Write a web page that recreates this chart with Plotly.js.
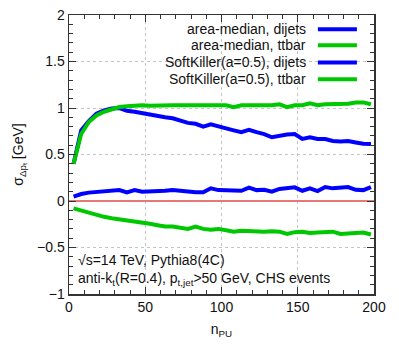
<!DOCTYPE html>
<html>
<head>
<meta charset="utf-8">
<script src="https://cdn.plot.ly/plotly-3.0.1.min.js"></script>
<style>
  html, body { margin: 0; padding: 0; background: #fff; }
  #plot { width: 399px; height: 353px; }
</style>
</head>
<body>
<div id="plot"></div>
<script>
// n_PU sample points
var npu = [3, 8, 13, 18, 23, 28, 33, 38, 43, 48, 53, 58, 63, 68, 73, 78, 83, 88, 93, 98,
           103, 108, 113, 118, 123, 128, 133, 138, 143, 148, 153, 158, 163, 168, 173, 178, 183, 188, 193, 198];

var am_dijets = [0.40, 0.76, 0.86, 0.94, 0.975, 0.995, 1.0, 0.97, 0.96, 0.945,
                 0.925, 0.905, 0.90, 0.89, 0.86, 0.84, 0.83, 0.80, 0.825, 0.80,
                 0.78, 0.76, 0.74, 0.765, 0.74, 0.72, 0.685, 0.705, 0.715, 0.72,
                 0.667, 0.685, 0.667, 0.667, 0.645, 0.64, 0.645, 0.63, 0.615, 0.613];

var am_ttbar = [0.40, 0.72, 0.85, 0.92, 0.96, 0.99, 1.01, 1.02, 1.03, 1.03,
                1.025, 1.03, 1.03, 1.03, 1.03, 1.025, 1.03, 1.03, 1.03, 1.025,
                1.03, 1.01, 1.03, 1.03, 1.03, 1.02, 1.03, 1.04, 1.01, 1.03,
                1.03, 1.05, 1.03, 1.04, 1.04, 1.04, 1.045, 1.06, 1.06, 1.04];

var sk_dijets = [0.047, 0.075, 0.09, 0.097, 0.105, 0.112, 0.117, 0.093, 0.117, 0.10,
                 0.10, 0.10, 0.11, 0.117, 0.11, 0.093, 0.093, 0.093, 0.136, 0.117,
                 0.117, 0.11, 0.11, 0.143, 0.117, 0.12, 0.10, 0.13, 0.14, 0.147,
                 0.11, 0.136, 0.107, 0.15, 0.136, 0.145, 0.15, 0.12, 0.117, 0.15];

var sk_ttbar = [-0.08, -0.105, -0.13, -0.15, -0.17, -0.185, -0.195, -0.21, -0.215, -0.225,
                -0.245, -0.26, -0.275, -0.275, -0.29, -0.30, -0.275, -0.30, -0.31, -0.30,
                -0.315, -0.33, -0.32, -0.325, -0.33, -0.33, -0.325, -0.33, -0.355, -0.335,
                -0.33, -0.345, -0.34, -0.335, -0.33, -0.355, -0.345, -0.345, -0.34, -0.36];

var names = ['area-median, dijets', 'area-median, ttbar',
             'SoftKiller(a=0.5), dijets', 'SoftKiller(a=0.5), ttbar'];
var blue = '#0000ff';
var green = '#00c800';
var colors = [blue, green, blue, green];
var series = [am_dijets, am_ttbar, sk_dijets, sk_ttbar];

var data = series.map(function (ys, i) {
    return {
        x: npu,
        y: ys,
        type: 'scatter',
        mode: 'lines',
        name: names[i],
        line: {color: colors[i], width: 4},
        hoverinfo: 'none'
    };
});

// hand-made legend: text right aligned, line sample on the right
var legY = [0.949, 0.892, 0.830, 0.770];
var annotations = [];
var shapes = [];
names.forEach(function (n, i) {
    annotations.push({
        xref: 'paper', yref: 'paper', x: 0.784, y: legY[i],
        xanchor: 'right', yanchor: 'middle', showarrow: false,
        text: n, font: {size: 14, color: '#111'}
    });
    shapes.push({
        type: 'line', xref: 'paper', yref: 'paper',
        x0: 0.816, x1: 0.944, y0: legY[i], y1: legY[i],
        line: {color: colors[i], width: 4}
    });
});

annotations.push({
    xref: 'paper', yref: 'paper', x: 0.022, y: 0.122,
    xanchor: 'left', yanchor: 'middle', showarrow: false,
    text: '\u221As=14 TeV, Pythia8(4C)', font: {size: 14, color: '#111'}
});
annotations.push({
    xref: 'paper', yref: 'paper', x: 0.022, y: 0.052,
    xanchor: 'left', yanchor: 'middle', showarrow: false,
    text: 'anti-k<sub>t</sub>(R=0.4), p<sub>t,jet</sub>>50 GeV, CHS events',
    font: {size: 14, color: '#111'}
});

var axisCommon = {
    showline: true,
    mirror: 'allticks',
    linecolor: '#333',
    linewidth: 1.5,
    ticks: 'inside',
    ticklen: 7,
    tickcolor: '#333',
    showgrid: true,
    gridcolor: '#c4c4c4',
    griddash: 'dot',
    gridwidth: 1,
    tickfont: {size: 14, color: '#111'}
};

var layout = {
    width: 399,
    height: 353,
    font: {family: 'Liberation Sans, Arial, sans-serif'},
    margin: {l: 69, r: 25, t: 15, b: 59},
    paper_bgcolor: '#ffffff',
    plot_bgcolor: '#ffffff',
    showlegend: false,
    xaxis: Object.assign({}, axisCommon, {
        range: [0, 200],
        dtick: 50,
        zeroline: false,
        minor: {ticks: 'inside', dtick: 10, ticklen: 4, tickcolor: '#333', showgrid: false},
        title: {text: 'n<sub>PU</sub>', font: {size: 14, color: '#111'}, standoff: 10}
    }),
    yaxis: Object.assign({}, axisCommon, {
        range: [-1, 2],
        dtick: 0.5,
        zeroline: true,
        zerolinecolor: '#e87878',
        zerolinewidth: 1.2,
        minor: {ticks: 'inside', dtick: 0.1, ticklen: 4, tickcolor: '#333', showgrid: false},
        title: {text: '\u03C3<sub>\u0394p\u209C</sub> [GeV]', font: {size: 14, color: '#111'}, standoff: 10}
    }),
    annotations: annotations,
    shapes: shapes
};

Plotly.newPlot('plot', data, layout, {displayModeBar: false, staticPlot: true});
</script>
</body>
</html>
